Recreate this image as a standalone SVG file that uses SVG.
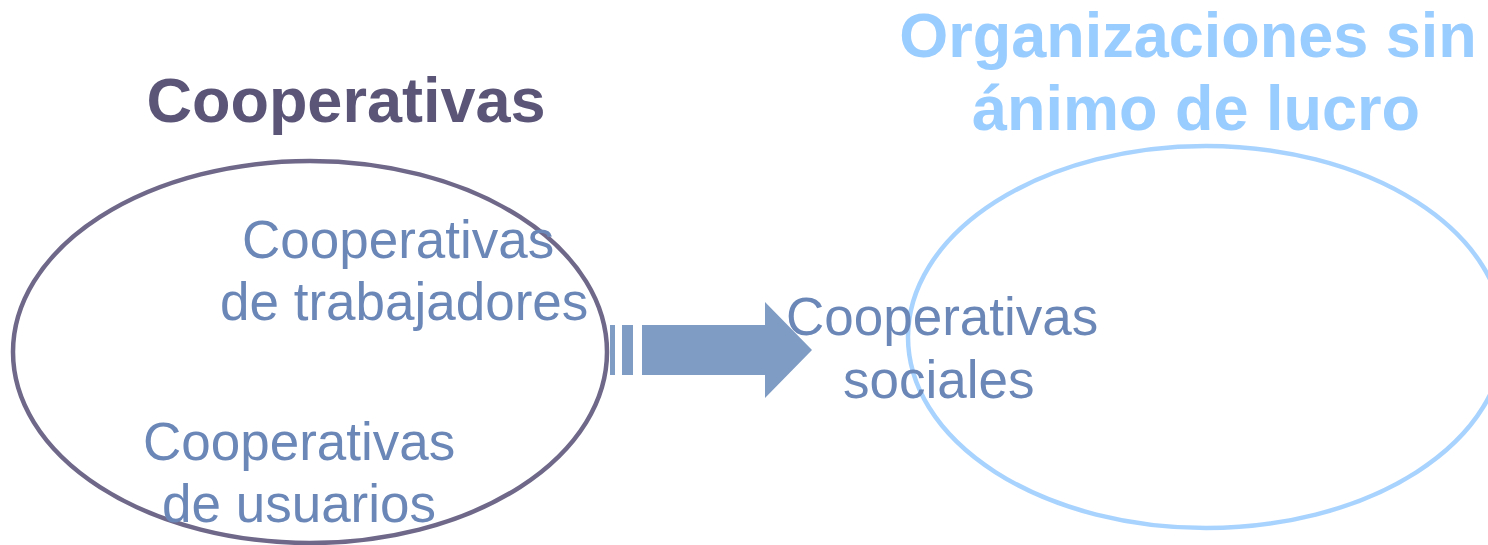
<svg xmlns="http://www.w3.org/2000/svg" width="1488" height="545" viewBox="0 0 1488 545">
<style>
.t{font-family:"Liberation Sans",Arial,sans-serif}
.h1{font-weight:bold;font-size:63px;fill:#5b5578}
.h2{font-weight:bold;font-size:63px;fill:#99ccff}
.lab{font-size:53px;fill:#6a87b8}
</style>
<rect width="1488" height="545" fill="#ffffff"/>
<g id="cooperativas">
<ellipse cx="310" cy="352" rx="297" ry="191" fill="none" stroke="#6f6889" stroke-width="4.5"/>
<text class="t h1" x="346" y="122" text-anchor="middle">Cooperativas</text>
</g>
<g id="organizaciones">
<ellipse cx="1206" cy="337" rx="298" ry="191" fill="none" stroke="#a8d3ff" stroke-width="4.5"/>
<text class="t h2" x="1188" y="57" text-anchor="middle">Organizaciones sin</text>
<text class="t h2" x="1196" y="130" text-anchor="middle">ánimo de lucro</text>
</g>
<g id="trabajadores">
<text class="t lab" x="242" y="258">Cooperativas</text>
<text class="t lab" x="220" y="320">de trabajadores</text>
</g>
<g id="usuarios">
<text class="t lab" x="143" y="460">Cooperativas</text>
<text class="t lab" x="162" y="522">de usuarios</text>
</g>
<g id="connectors">
<rect x="610" y="325" width="5" height="50" fill="#7f9cc4"/>
<rect x="622" y="325" width="11" height="50" fill="#7f9cc4"/>
<polygon points="642,325 765,325 765,302 812,350 765,398 765,375 642,375" fill="#7f9cc4"/>
</g>
<g id="sociales">
<text class="t lab" x="786" y="335">Cooperativas</text>
<text class="t lab" x="843" y="398">sociales</text>
</g>
</svg>
